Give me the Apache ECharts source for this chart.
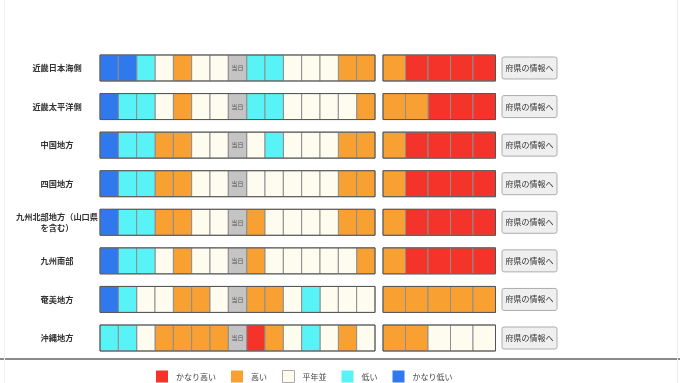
<!DOCTYPE html>
<html><head><meta charset="utf-8">
<script src="https://cdn.jsdelivr.net/npm/echarts@6/dist/echarts.min.js"></script>
<style>html,body{margin:0;padding:0;background:#fff}#c{width:680px;height:383px}</style>
</head><body><div id="c"></div>
<script>
// Regions (rows)
const regions = ['近畿日本海側','近畿太平洋側','中国地方','四国地方','九州北部地方（山口県を含む）','九州南部','奄美地方','沖縄地方'];
// Level names: 5 かなり高い, 4 高い, 3 平年並, 2 低い, 1 かなり低い, 0 当日
const levelNames = {5:'かなり高い',4:'高い',3:'平年並',2:'低い',1:'かなり低い'};
const levelColors = {5:'#f4342a',4:'#f9a032',3:'#fdfcef',2:'#58f3f6',1:'#2f78ee',0:'#c4c4c4'};
const todayLabel = '当日';
// Recent days (15 columns, column 8 = 当日)
const recentLevels = [
  [1,1,2,3,4,3,3,0,2,2,3,3,3,4,4],
  [1,2,2,3,4,3,3,0,2,2,3,3,3,3,4],
  [1,2,2,4,4,3,3,0,3,2,3,3,3,4,4],
  [1,2,2,4,4,3,3,0,3,3,3,3,3,4,4],
  [1,2,2,4,4,3,3,0,4,3,3,3,3,4,4],
  [1,2,2,3,4,3,3,0,4,3,3,3,3,3,4],
  [1,2,3,3,4,4,3,0,4,4,3,2,3,3,3],
  [2,2,3,4,4,4,4,0,5,4,3,2,3,4,3]
];
// Outlook (5 columns)
const outlookLevels = [
  [4,5,5,5,5],
  [4,4,5,5,5],
  [4,5,5,5,5],
  [4,5,5,5,5],
  [4,5,5,5,5],
  [4,5,5,5,5],
  [4,4,4,4,4],
  [4,4,3,3,3]
];
const buttonLabel = '府県の情報へ';
const legendOrder = [5,4,3,2,1];

const FONT = "'Noto Sans CJK JP', sans-serif";
const CELL_FRAC = 0.674;
const LABEL_LINE_CHARS = 10;

function cellRender(params, api){
  const c = api.coord([api.value(0), api.value(1)]);
  const s = api.size([1,1]);
  const w = s[0], h = s[1]*CELL_FRAC;
  return {type:'rect', shape:{x:c[0]-w/2, y:c[1]-h/2, width:w, height:h},
    style:{fill: api.visual('color'), stroke:'#8e8e8e', lineWidth:1}};
}
function todayRender(params, api){
  const c = api.coord([api.value(0), api.value(1)]);
  const s = api.size([1,1]);
  const w = s[0], h = s[1]*CELL_FRAC;
  return {type:'group', children:[
    {type:'rect', shape:{x:c[0]-w/2, y:c[1]-h/2, width:w, height:h},
      style:{fill: levelColors[0], stroke:'#8e8e8e', lineWidth:1}},
    {type:'text', style:{x:c[0], y:c[1], text: todayLabel, fill:'#555', font:'6px '+FONT, align:'center', verticalAlign:'middle'}}
  ]};
}
function outlineRender(n){
  return function(params, api){
    const a = api.coord([0, api.value(1)]);
    const b = api.coord([n-1, api.value(1)]);
    const s = api.size([1,1]);
    const w = s[0], h = s[1]*CELL_FRAC;
    return {type:'rect', shape:{x:a[0]-w/2, y:a[1]-h/2, width:b[0]-a[0]+w, height:h},
      style:{fill:'none', stroke:'#555', lineWidth:1}};
  };
}
function labelRender(params, api){
  const r = api.value(1);
  const c = api.coord([0, r]);
  const s = api.size([1,1]);
  const x = c[0] - s[0]/2 - 43;
  const name = regions[r];
  const lines = name.length > LABEL_LINE_CHARS ? [name.slice(0, LABEL_LINE_CHARS), name.slice(LABEL_LINE_CHARS)] : [name];
  const lh = 11;
  return {type:'group', children: lines.map((t, k) => ({
    type:'text', style:{x, y: c[1] + (k - (lines.length-1)/2)*lh, text:t, fill:'#333',
      font:'bold 8.2px '+FONT, align:'center', verticalAlign:'middle'}}))};
}
function buttonRender(params, api){
  const c = api.coord([0, api.value(1)]);
  const s = api.size([1,1]);
  const w = s[0], h = 22;
  return {type:'group', children:[
    {type:'rect', shape:{x:c[0]-w/2, y:c[1]-h/2, width:w, height:h, r:2},
      style:{fill:'#efefef', stroke:'#adadad', lineWidth:1}},
    {type:'text', style:{x:c[0], y:c[1], text: buttonLabel, fill:'#333', font:'8px '+FONT, align:'center', verticalAlign:'middle'}}
  ]};
}

const series = [];
legendOrder.forEach(lv => {
  const data = [];
  recentLevels.forEach((row, r) => row.forEach((v, i) => { if (v === lv) data.push([i, r]); }));
  series.push({type:'custom', name: levelNames[lv], xAxisIndex:0, yAxisIndex:0, renderItem: cellRender,
    itemStyle:{color: levelColors[lv]}, data});
  const data2 = [];
  outlookLevels.forEach((row, r) => row.forEach((v, i) => { if (v === lv) data2.push([i, r]); }));
  series.push({type:'custom', name: levelNames[lv], xAxisIndex:1, yAxisIndex:1, renderItem: cellRender,
    itemStyle:{color: levelColors[lv]}, data: data2});
});
const todayData = [];
recentLevels.forEach((row, r) => row.forEach((v, i) => { if (v === 0) todayData.push([i, r]); }));
series.push({type:'custom', name:'today', xAxisIndex:0, yAxisIndex:0, renderItem: todayRender, data: todayData});
series.push({type:'custom', name:'outline1', xAxisIndex:0, yAxisIndex:0, renderItem: outlineRender(15), data: regions.map((_, r) => [0, r]), z:5});
series.push({type:'custom', name:'outline2', xAxisIndex:1, yAxisIndex:1, renderItem: outlineRender(5), data: regions.map((_, r) => [0, r]), z:5});
series.push({type:'custom', name:'labels', xAxisIndex:0, yAxisIndex:0, renderItem: labelRender, data: regions.map((_, r) => [0, r]), clip:false});
series.push({type:'custom', name:'buttons', xAxisIndex:2, yAxisIndex:2, renderItem: buttonRender, data: regions.map((_, r) => [0, r])});

const rowTop = 48.7, rowH = 308.6;
const hiddenY = {type:'category', data: regions, inverse:true, show:false};
const option = {
  animation:false,
  textStyle:{fontFamily: FONT},
  grid:[
    {left:100, width:275, top:rowTop, height:rowH},
    {left:383, width:112.5, top:rowTop, height:rowH},
    {left:502, width:55, top:rowTop, height:rowH}
  ],
  xAxis:[
    {type:'category', gridIndex:0, data: recentLevels[0].map((_, i) => i), show:false},
    {type:'category', gridIndex:1, data: outlookLevels[0].map((_, i) => i), show:false},
    {type:'category', gridIndex:2, data:[0], show:false}
  ],
  yAxis:[
    Object.assign({gridIndex:0}, hiddenY),
    Object.assign({gridIndex:1}, hiddenY),
    Object.assign({gridIndex:2}, hiddenY)
  ],
  legend:{
    left:151, top:365, itemWidth:12, itemHeight:12, itemGap:15, icon:'rect',
    textStyle:{fontSize:8, color:'#444', fontFamily: FONT, padding:[0,0,0,3]},
    data: legendOrder.map(lv => lv === 3
      ? {name: levelNames[lv], itemStyle:{borderColor:'#aaa', borderWidth:1}}
      : {name: levelNames[lv]})
  },
  graphic:[
    {type:'line', shape:{x1:0, y1:359, x2:680, y2:359}, style:{stroke:'#8a8a8a', lineWidth:2}},
    {type:'line', shape:{x1:4.5, y1:0, x2:4.5, y2:383}, style:{stroke:'#f0f0f0', lineWidth:1}},
    {type:'line', shape:{x1:677.5, y1:0, x2:677.5, y2:383}, style:{stroke:'#ececec', lineWidth:1}}
  ],
  series
};
const chart = echarts.init(document.getElementById('c'), null, {renderer:'canvas'});
chart.setOption(option);
</script></body></html>
